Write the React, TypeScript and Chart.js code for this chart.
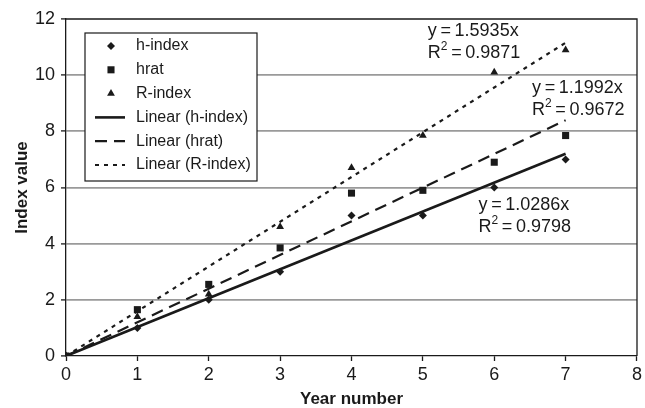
import React, { useEffect, useRef } from "react";
import { Chart, registerables } from "chart.js";

Chart.register(...registerables);

// ---- data ----
const years = [0, 1, 2, 3, 4, 5, 6, 7];
const hIndex = [0, 1, 2, 3, 5, 5, 6, 7];
const hrat = [0, 1.65, 2.55, 3.85, 5.8, 5.9, 6.9, 7.85];
const rIndex = [0, 1.4, 2.2, 4.6, 6.7, 7.85, 10.1, 10.9];
const seriesNames = ["h-index", "hrat", "R-index"];
const trendNames = ["Linear (h-index)", "Linear (hrat)", "Linear (R-index)"];
const slopes = [1.0286, 1.1992, 1.5935];
const rSquared = [0.9798, 0.9672, 0.9871];
// label anchors (data coordinates of first text line: left x, middle y)
const labelAnchorX = [5.78, 6.53, 5.07];
const labelAnchorY = [5.38, 9.54, 11.57];
const xAxisTitle = "Year number";
const yAxisTitle = "Index value";
const xMin = 0, xMax = 8, xStep = 1;
const yMin = 0, yMax = 12, yStep = 2;

const FONT = '"Liberation Sans", Arial, Helvetica, sans-serif';
const INK = "#1a1a1a";
const EQ = "\u2009=\u2009";

const pointStyles = ["rectRot", "rect", "triangle"] as const;
const pointRadii = [4, 5, 4.5];
const dashes: number[][] = [[], [12, 7], [4, 5]];
const lineWidths = [2.6, 2.2, 2.2];

const pts = (ys: number[]) => years.map((x, i) => ({ x, y: ys[i] }));

const legendPlugin = {
  id: "boxLegend",
  afterDraw(chart: any) {
    const { ctx, chartArea } = chart;
    const bx = chartArea.left + 19;
    const by = chartArea.top + 14;
    const bw = 172;
    const bh = 148;
    ctx.save();
    ctx.fillStyle = "#ffffff";
    ctx.fillRect(bx, by, bw, bh);
    ctx.strokeStyle = INK;
    ctx.lineWidth = 1.2;
    ctx.strokeRect(bx, by, bw, bh);
    ctx.font = `16px ${FONT}`;
    ctx.textBaseline = "middle";
    ctx.textAlign = "left";
    const rowH = 23.8;
    const items = chart.data.datasets;
    items.forEach((ds: any, i: number) => {
      const cy = by + 13 + i * rowH;
      const mx = bx + 26;
      ctx.fillStyle = INK;
      ctx.strokeStyle = INK;
      if (ds.showLine === false) {
        ctx.beginPath();
        const r = ds.pointRadius;
        if (ds.pointStyle === "rectRot") {
          ctx.moveTo(mx - r, cy); ctx.lineTo(mx, cy - r); ctx.lineTo(mx + r, cy); ctx.lineTo(mx, cy + r);
        } else if (ds.pointStyle === "rect") {
          const s = r * Math.SQRT1_2;
          ctx.rect(mx - s, cy - s, 2 * s, 2 * s);
        } else {
          ctx.moveTo(mx, cy - r);
          ctx.lineTo(mx + r * 0.866, cy + r * 0.5);
          ctx.lineTo(mx - r * 0.866, cy + r * 0.5);
        }
        ctx.closePath();
        ctx.fill();
      } else {
        ctx.lineWidth = ds.borderWidth;
        ctx.setLineDash(ds.borderDash || []);
        ctx.beginPath();
        ctx.moveTo(bx + 10, cy);
        ctx.lineTo(bx + 40, cy);
        ctx.stroke();
        ctx.setLineDash([]);
      }
      ctx.fillStyle = INK;
      ctx.fillText(ds.label, bx + 51, cy);
    });
    ctx.restore();
  },
};

const framePlugin = {
  id: "frameAndLabels",
  afterDatasetsDraw(chart: any) {
    const { ctx, chartArea, scales } = chart;
    ctx.save();
    ctx.strokeStyle = INK;
    ctx.lineWidth = 1.3;
    ctx.beginPath();
    ctx.moveTo(chartArea.left, chartArea.top);
    ctx.lineTo(chartArea.right, chartArea.top);
    ctx.lineTo(chartArea.right, chartArea.bottom);
    ctx.stroke();

    // regression labels
    ctx.fillStyle = INK;
    ctx.textBaseline = "middle";
    ctx.textAlign = "left";
    slopes.forEach((s, i) => {
      const x = scales.x.getPixelForValue(labelAnchorX[i]);
      const y = scales.y.getPixelForValue(labelAnchorY[i]);
      ctx.font = `18px ${FONT}`;
      ctx.fillText(`y${EQ}${s.toFixed(4)}x`, x, y);
      const y2 = y + 22;
      ctx.fillText("R", x, y2);
      const wR = ctx.measureText("R").width;
      ctx.font = `12px ${FONT}`;
      ctx.fillText("2", x + wR, y2 - 6);
      const w2 = ctx.measureText("2").width;
      ctx.font = `18px ${FONT}`;
      ctx.fillText(`${EQ}${rSquared[i].toFixed(4)}`, x + wR + w2, y2);
    });

    // axis titles
    ctx.font = `bold 17px ${FONT}`;
    ctx.textAlign = "center";
    ctx.fillText(xAxisTitle, (chartArea.left + chartArea.right) / 2, 399);
    ctx.translate(22, (chartArea.top + chartArea.bottom) / 2);
    ctx.rotate(-Math.PI / 2);
    ctx.fillText(yAxisTitle, 0, 0);
    ctx.restore();
  },
};

export default function App() {
  const ref = useRef<HTMLCanvasElement | null>(null);
  useEffect(() => {
    if (!ref.current) return;
    const scatter = [hIndex, hrat, rIndex].map((ys, i) => ({
      type: "scatter" as const,
      label: seriesNames[i],
      data: pts(ys),
      showLine: false,
      pointStyle: pointStyles[i],
      pointRadius: pointRadii[i],
      pointBackgroundColor: INK,
      pointBorderWidth: 0,
      borderColor: INK,
      backgroundColor: INK,
    }));
    const trends = slopes.map((s, i) => ({
      type: "line" as const,
      label: trendNames[i],
      data: [
        { x: years[0], y: s * years[0] },
        { x: years[years.length - 1], y: s * years[years.length - 1] },
      ],
      borderColor: INK,
      borderWidth: lineWidths[i],
      borderDash: dashes[i],
      pointRadius: 0,
      fill: false,
      tension: 0,
    }));
    const chart = new Chart(ref.current, {
      type: "scatter",
      data: { datasets: [...scatter, ...trends] as any },
      options: {
        responsive: false,
        animation: false,
        layout: { padding: { left: 0, right: 8, top: 19, bottom: 0 } },
        plugins: { legend: { display: false }, tooltip: { enabled: false } },
        scales: {
          x: {
            type: "linear",
            min: xMin,
            max: xMax,
            afterFit: (s: any) => { s.height = 52; },
            ticks: { stepSize: xStep, color: INK, font: { family: FONT, size: 18 }, padding: 3, maxRotation: 0 },
            grid: { drawOnChartArea: false, tickLength: 5, tickColor: INK, tickWidth: 1.3 },
            border: { color: INK, width: 1.3 },
          },
          y: {
            type: "linear",
            min: yMin,
            max: yMax,
            afterFit: (s: any) => { s.width = 66; },
            ticks: { stepSize: yStep, color: INK, font: { family: FONT, size: 18 }, padding: 6 },
            grid: {
              color: (c: any) => (c.tick && (c.tick.value === yMin || c.tick.value === yMax) ? "rgba(0,0,0,0)" : "#9a9a9a"),
              lineWidth: 1.8,
              tickLength: 5,
              tickColor: INK,
              tickWidth: 1.3,
            },
            border: { color: INK, width: 1.3 },
          },
        },
      },
      plugins: [framePlugin, legendPlugin],
    });
    return () => chart.destroy();
  }, []);
  return (
    <div style={{ position: "fixed", left: 0, top: 0, width: 645, height: 408, background: "#fff" }}>
      <canvas ref={ref} width={645} height={408} style={{ display: "block" }} />
    </div>
  );
}
